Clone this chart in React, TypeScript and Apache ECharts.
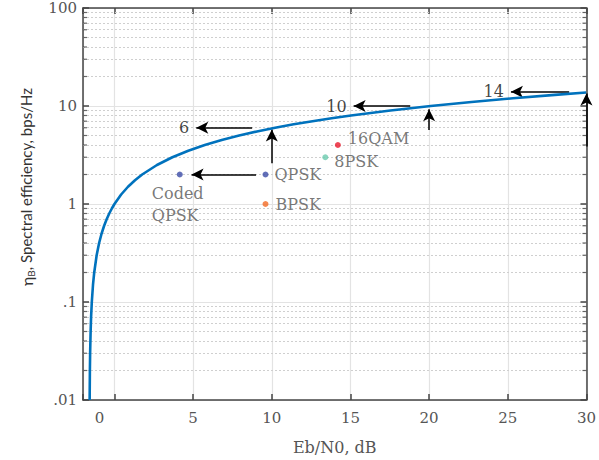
import React, { useEffect, useRef } from "react";
import * as echarts from "echarts";

// Shannon-limit curve samples (Eb/N0 dB, spectral efficiency)
const curveEbN0 = [-1.577, -1.562, -1.547, -1.516, -1.486, -1.44, -1.364, -1.287, -1.132, -0.976, -0.817, -0.657, -0.496, -0.332, -0.167, 0, 0.425, 0.86, 1.305, 1.761, 2.701, 3.68, 4.693, 5.74, 6.818, 7.924, 9.056, 10.212, 11.39, 12.587, 13.803, 15.034, 17.542, 20.099, 22.697, 25.331, 27.994, 29.98];
const curveEta = [0.01, 0.02, 0.03, 0.05, 0.07, 0.1, 0.15, 0.2, 0.3, 0.4, 0.5, 0.6, 0.7, 0.8, 0.9, 1, 1.25, 1.5, 1.75, 2, 2.5, 3, 3.5, 4, 4.5, 5, 5.5, 6, 6.5, 7, 7.5, 8, 9, 10, 11, 12, 13, 13.74];

// Modulation points
const modNames = ["Coded\nQPSK", "QPSK", "BPSK", "8PSK", "16QAM"];
const modEbN0 = [4.15, 9.6, 9.6, 13.4, 14.2];
const modEta = [2, 2, 1, 3, 4];
const modColors = ["#3b4ba6", "#3b4ba6", "#f26a24", "#6acaae", "#e8192c"];

// Arrows: [from, to]
const arrowFrom = [[9.0, 2], [10, 2.6], [8.75, 6], [18.8, 10], [20, 5.7], [28.9, 14], [30, 3.85]];
const arrowTo = [[4.9, 2], [10, 5.75], [5.2, 6], [15.2, 10], [20, 9.25], [25.2, 14], [30, 13.4]];

// Arrow number labels
const etaLabels = ["6", "10", "14"];
const etaLabelPos = [[5.2, 6], [15.2, 10], [25.2, 14]];

// Axis
const xMin = -2;
const xMax = 30;
const yMin = 0.01;
const yMax = 100;
const yTickText = [".01", ".1", "1", "10", "100"];
const minorY = [0.02, 0.03, 0.04, 0.05, 0.06, 0.07, 0.08, 0.09, 0.2, 0.3, 0.4, 0.5, 0.6, 0.7, 0.8, 0.9, 2, 3, 4, 5, 6, 7, 8, 9, 20, 30, 40, 50, 60, 70, 80, 90];
const yTitle = "{eta|η}{sub|B}{t|, Spectral efficiency, bps/Hz}";

const SERIF = "DejaVu Serif";
const SANS = "Lato";

export default function App() {
  const ref = useRef<HTMLDivElement>(null);
  useEffect(() => {
    if (!ref.current) return;
    const chart = echarts.init(ref.current, undefined, { renderer: "svg" });
    const axisColor = "#454545";
    const option: any = {
      animation: false,
      backgroundColor: "#ffffff",
      grid: { left: 83, right: 10, top: 8, bottom: 53, containLabel: false },
      graphic: [
        {
          type: "text",
          x: 26,
          y: 187,
          rotation: Math.PI / 2,
          silent: true,
          style: {
            text: yTitle,
            align: "center",
            verticalAlign: "middle",
            fill: "#333",
            rich: {
              eta: { fontFamily: SANS, fontSize: 16, fill: "#333", lineHeight: 20, verticalAlign: "middle" },
              sub: { fontFamily: SANS, fontSize: 10, fill: "#333", lineHeight: 20, verticalAlign: "bottom" },
              t: { fontFamily: SANS, fontSize: 15, fill: "#333", lineHeight: 20, verticalAlign: "middle" },
            },
          },
        },
      ],
      xAxis: [
        {
          type: "value",
          min: xMin,
          max: xMax,
          minInterval: 5,
          maxInterval: 5,
          name: "Eb/N0, dB",
          nameLocation: "middle",
          nameGap: 39,
          nameTextStyle: { fontFamily: SERIF, fontSize: 16, color: "#555" },
          axisLine: { show: true, onZero: false, lineStyle: { color: axisColor, width: 1.5 } },
          axisTick: { show: true, inside: true, length: 6, lineStyle: { color: axisColor, width: 1.5 } },
          axisLabel: {
            fontFamily: SERIF,
            fontSize: 15,
            color: "#555",
            margin: 10,
            formatter: (v: number) => (v === xMin ? "" : v === 0 ? "{o|0}" : String(v)),
            rich: { o: { fontFamily: SERIF, fontSize: 15, color: "#555", padding: [0, 30, 0, 0] } },
          },
          splitLine: { show: true, lineStyle: { color: "#e3e3e3", width: 1.2 } },
        },
        {
          type: "value",
          position: "top",
          min: xMin,
          max: xMax,
          minInterval: 5,
          maxInterval: 5,
          axisLine: { show: true, onZero: false, lineStyle: { color: axisColor, width: 1.5 } },
          axisTick: { show: true, inside: true, length: 6, lineStyle: { color: axisColor, width: 1.5 } },
          axisLabel: { show: false },
          splitLine: { show: false },
        },
      ],
      yAxis: [
        {
          type: "log",
          logBase: 10,
          min: yMin,
          max: yMax,
          axisLine: { show: true, onZero: false, lineStyle: { color: axisColor, width: 1.5 } },
          axisTick: { show: true, inside: true, length: 6, lineStyle: { color: axisColor, width: 1.5 } },
          axisLabel: {
            fontFamily: SERIF,
            fontSize: 15,
            color: "#555",
            margin: 6,
            formatter: (v: number) => yTickText[Math.round(Math.log10(v)) + 2] ?? "",
          },
          splitLine: { show: true, lineStyle: { color: "#e3e3e3", width: 1.2 } },
        },
        {
          type: "log",
          logBase: 10,
          min: yMin,
          max: yMax,
          position: "right",
          axisLine: { show: true, onZero: false, lineStyle: { color: axisColor, width: 1.5 } },
          axisTick: { show: true, inside: true, length: 6, lineStyle: { color: axisColor, width: 1.5 } },
          axisLabel: { show: false },
          splitLine: { show: false },
        },
      ],
      series: [
        {
          name: "minorLeft",
          type: "scatter",
          silent: true,
          clip: false,
          symbol: "rect",
          symbolSize: [4, 1.2],
          symbolOffset: [2, 0],
          itemStyle: { color: axisColor },
          data: minorY.map((v) => [xMin, v]),
          markLine: {
            silent: true,
            symbol: ["none", "none"],
            label: { show: false },
            lineStyle: { color: "#cfcfcf", type: [2, 2], width: 1 },
            data: minorY.map((v) => ({ yAxis: v })),
            z: 1,
          },
          z: 3,
        },
        {
          name: "minorRight",
          type: "scatter",
          silent: true,
          clip: false,
          symbol: "rect",
          symbolSize: [4, 1.2],
          symbolOffset: [-2, 0],
          itemStyle: { color: axisColor },
          data: minorY.map((v) => [xMax, v]),
          z: 3,
        },
        {
          name: "Shannon",
          type: "line",
          data: curveEbN0.map((x, i) => [x, curveEta[i]]),
          showSymbol: false,
          smooth: false,
          lineStyle: { color: "#0072BD", width: 2.6 },
          z: 5,
        },
        {
          name: "mods",
          type: "scatter",
          symbolSize: 6,
          clip: false,
          data: modNames.map((n, i) => {
            const base: any = {
              value: [modEbN0[i], modEta[i]],
              itemStyle: { color: modColors[i] },
              label: {
                show: true,
                formatter: n,
                fontFamily: SERIF,
                fontSize: 16,
                color: "#555",
                position: "right",
                distance: 6,
              },
            };
            if (i === 0) {
              base.label.position = "bottom";
              base.label.align = "left";
              base.label.distance = 5;
              base.label.offset = [-28, 0];
              base.label.lineHeight = 22;
            } else if (i === 2) {
              base.label.distance = 7;
            } else if (i === 3) {
              base.label.offset = [0, 4];
              base.label.distance = 6;
            } else if (i === 4) {
              base.label.offset = [0, -6];
              base.label.distance = 7;
            }
            return base;
          }),
          markLine: {
            silent: true,
            symbol: ["none", "arrow"],
            symbolSize: [9, 12],
            label: { show: false },
            lineStyle: { color: "#000", type: "solid", width: 1.5 },
            data: arrowFrom.map((f, i) => [{ coord: f }, { coord: arrowTo[i] }]),
          },
          z: 6,
        },
        {
          name: "etaLabels",
          type: "scatter",
          symbolSize: 0,
          silent: true,
          clip: false,
          data: etaLabels.map((t, i) => ({
            value: etaLabelPos[i],
            label: {
              show: true,
              formatter: t,
              position: "left",
              distance: 7,
              fontFamily: SERIF,
              fontSize: 16,
              color: "#111",
            },
          })),
          z: 7,
        },
      ],
    };
    chart.setOption(option);
    return () => chart.dispose();
  }, []);
  return <div ref={ref} style={{ width: 599, height: 460, position: "absolute", left: 0, top: 0 }} />;
}
